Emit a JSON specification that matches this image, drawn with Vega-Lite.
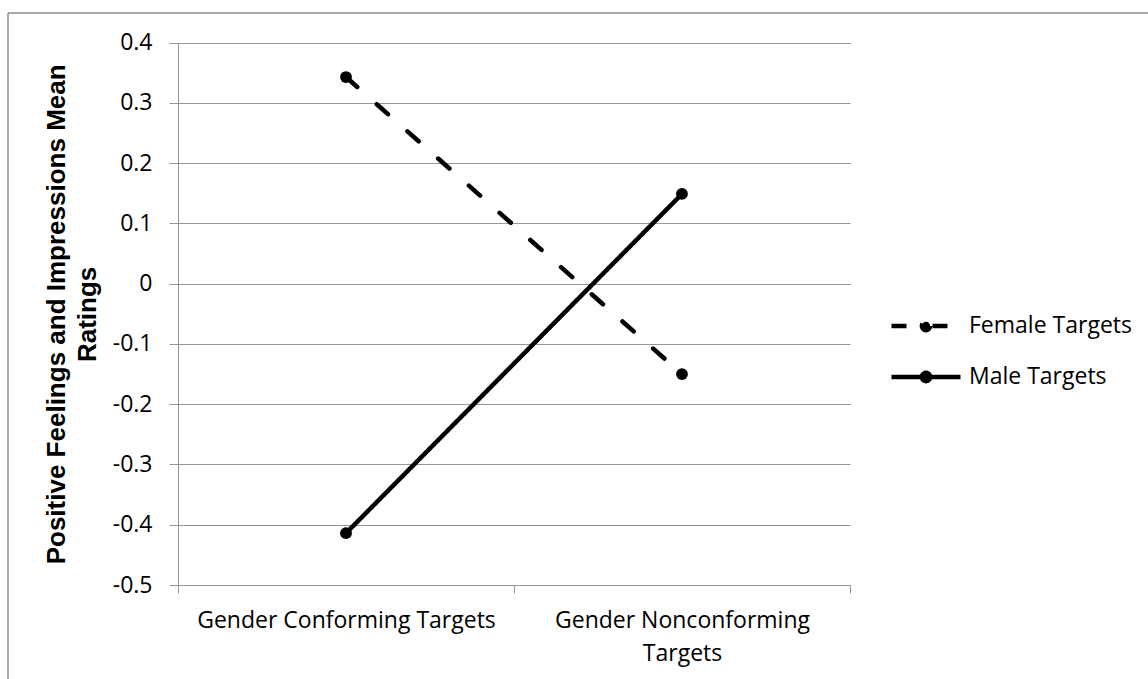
{
  "$schema": "https://vega.github.io/schema/vega-lite/v6.json",
  "width": 1140,
  "height": 666,
  "autosize": {"type": "none"},
  "padding": {"left": 8, "top": 13, "right": 0, "bottom": 0},
  "background": "white",
  "config": {
    "view": {"stroke": "#8c8c8c", "strokeWidth": 1.5, "strokeDash": [1140, 1806, 666, 0]},
    "font": "Open Sans"
  },
  "data": {
    "values": [
      {"condition": "Gender Conforming Targets", "series": "Female Targets", "rating": 0.343},
      {"condition": "Gender Nonconforming Targets", "series": "Female Targets", "rating": -0.150},
      {"condition": "Gender Conforming Targets", "series": "Male Targets", "rating": -0.414},
      {"condition": "Gender Nonconforming Targets", "series": "Male Targets", "rating": 0.149}
    ]
  },
  "encoding": {
    "x": {
      "field": "condition",
      "type": "nominal",
      "sort": ["Gender Conforming Targets", "Gender Nonconforming Targets"],
      "scale": {"type": "band", "range": [170, 842], "paddingInner": 0, "paddingOuter": 0},
      "axis": {
        "title": null,
        "orient": "bottom",
        "offset": -94,
        "grid": false,
        "tickBand": "extent",
        "tickSize": 8,
        "tickColor": "#969696",
        "domainColor": "#969696",
        "labelAngle": 0,
        "labelFont": "Open Sans",
        "labelFontSize": 23,
        "labelColor": "black",
        "labelLineHeight": 33,
        "labelPadding": 16,
        "labelLimit": 400,
        "labelOverlap": false,
        "labelExpr": "datum.label == 'Gender Nonconforming Targets' ? ['Gender Nonconforming', 'Targets'] : datum.label"
      }
    },
    "y": {
      "field": "rating",
      "type": "quantitative",
      "scale": {"domain": [-0.5, 0.4], "range": [572, 29.7], "nice": false, "zero": false},
      "axis": {
        "orient": "left",
        "offset": -170,
        "values": [-0.5, -0.4, -0.3, -0.2, -0.1, 0, 0.1, 0.2, 0.3, 0.4],
        "labelExpr": "'' + datum.value",
        "grid": true,
        "gridColor": "#969696",
        "gridWidth": 1,
        "tickSize": 9,
        "tickColor": "#969696",
        "domainColor": "#969696",
        "labelFont": "Open Sans",
        "labelFontSize": 23,
        "labelColor": "black",
        "labelPadding": 17,
        "labelOverlap": false,
        "title": ["Positive Feelings and Impressions Mean", "Ratings"],
        "titleFont": "Liberation Sans",
        "titleFontWeight": "bold",
        "titleFontSize": 26,
        "titleLineHeight": 31,
        "titleColor": "black",
        "titlePadding": 12
      }
    }
  },
  "layer": [
    {
      "mark": {"type": "line", "color": "black", "strokeWidth": 4.5, "strokeCap": "round"},
      "encoding": {
        "strokeDash": {
          "field": "series",
          "type": "nominal",
          "scale": {"domain": ["Female Targets", "Male Targets"], "range": [[15, 26], [1, 0]]},
          "legend": {
            "title": null,
            "orient": "none",
            "legendX": 881,
            "legendY": 276,
            "padding": 0,
            "symbolType": "M-1,0L1,0M0.12,0A0.12,0.12,0,1,1,-0.12,0A0.12,0.12,0,1,1,0.12,0Z",
            "symbolSize": 4761,
            "symbolStrokeWidth": 4.5,
            "symbolStrokeColor": "black",
            "symbolFillColor": "black",
            "symbolOpacity": 1,
            "labelFont": "Open Sans",
            "labelFontSize": 23,
            "labelColor": "black",
            "labelOffset": 6,
            "labelLimit": 300,
            "rowPadding": -3,
            "encode": {
              "symbols": {
                "update": {
                  "strokeDash": {"signal": "datum.value === 'Female Targets' ? [22, 8, 32, 200] : [1, 0]"},
                  "fill": {"value": "black"},
                  "stroke": {"value": "black"}
                }
              }
            }
          }
        }
      }
    },
    {
      "mark": {"type": "point", "filled": true, "size": 140, "color": "black", "opacity": 1},
      "encoding": {"detail": {"field": "series", "type": "nominal"}}
    }
  ]
}
